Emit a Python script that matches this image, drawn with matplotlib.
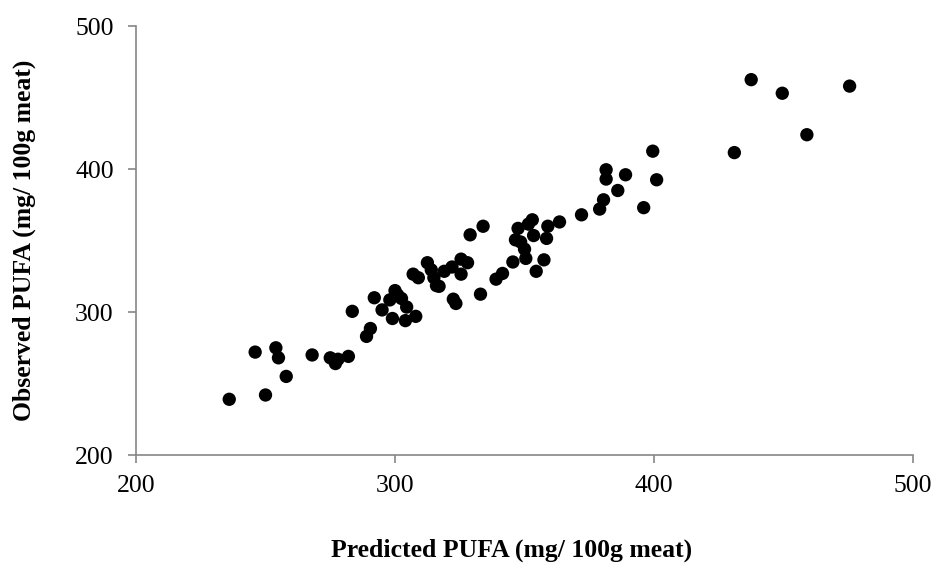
import matplotlib
matplotlib.use("Agg")
import matplotlib.pyplot as plt

# Predicted vs observed PUFA content (mg / 100 g meat)
predicted = [236, 250, 246, 254, 255, 258, 268, 275, 277, 278, 282,
             283.5, 289, 290.5, 292, 295, 299, 304, 308, 300, 298, 302.5,
             304.5, 301, 307, 309, 312.5, 314, 315, 316, 317, 319, 322,
             325.5, 328, 325.5, 322.5, 323.5, 333, 329, 334, 339, 341.5,
             345.5, 350.5, 357.5, 354.5, 353, 351.5, 347.5, 346.5, 348.5,
             353.5, 350, 363.5, 359, 358.5, 372, 379, 380.5, 386, 389,
             381.5, 381.5, 396, 399.5, 401, 431, 437.5, 449.5, 459, 475.5]
observed = [239, 242, 272, 275, 268, 255, 270, 268, 264, 267, 269,
            300.5, 283, 288.5, 310, 301.5, 295.5, 294, 297, 315, 308.5, 309.5,
            303.5, 312, 326.5, 324, 334.5, 329.5, 324, 318.5, 318, 328.5, 331.5,
            337, 334.5, 326.5, 309, 306, 312.5, 354, 360, 323, 327,
            335, 337.5, 336.5, 328.5, 364.5, 361.5, 358.5, 350.5, 349,
            353.5, 344, 363, 360, 351.5, 368, 372, 378.5, 385, 396,
            399.5, 393, 373, 412.5, 392.5, 411.5, 462.5, 453, 424, 458]

plt.rcParams["font.family"] = ["Liberation Serif", "DejaVu Serif"]
axis_grey = "#868686"

fig = plt.figure(figsize=(9.34, 5.66), dpi=100)
ax = fig.add_axes([0.1456, 0.196, 0.832, 0.758])

ax.scatter(predicted, observed, s=92, color="black", edgecolors="none", zorder=3)

ax.set_xlim(200, 500)
ax.set_ylim(200, 500)
ax.set_xticks([200, 300, 400, 500])
ax.set_yticks([200, 300, 400, 500])

for side in ("top", "right"):
    ax.spines[side].set_visible(False)
for side in ("left", "bottom"):
    ax.spines[side].set_color(axis_grey)
    ax.spines[side].set_linewidth(1.2)

ax.tick_params(axis="both", direction="out", length=6, width=1.2,
               color=axis_grey, labelsize=18.5, labelcolor="black")
ax.tick_params(axis="x", pad=8)
ax.tick_params(axis="y", pad=10)

ax.set_xlabel("Predicted PUFA (mg/ 100g meat)", fontsize=18.5,
              fontweight="bold", labelpad=30)
ax.xaxis.set_label_coords(0.483, -0.195)
ax.set_ylabel("Observed PUFA (mg/ 100g meat)", fontsize=18.5,
              fontweight="bold", labelpad=28)

fig.savefig("out.png", dpi=100)
